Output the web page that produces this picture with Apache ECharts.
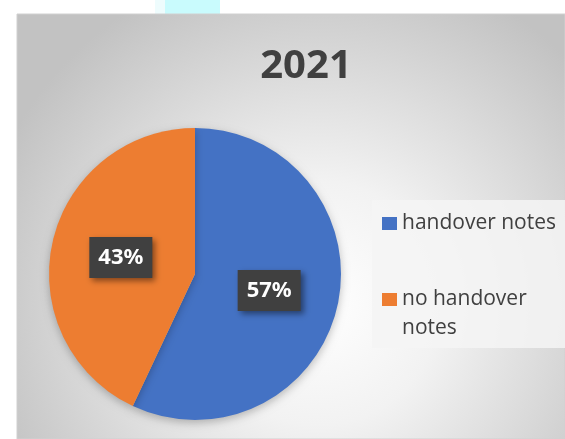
<!DOCTYPE html>
<html>
<head>
<meta charset="utf-8">
<style>
  html, body { margin: 0; padding: 0; background: #ffffff; }
  #chart { width: 565px; height: 439px; }
</style>
<script src="https://cdn.jsdelivr.net/npm/echarts@6/dist/echarts.min.js"></script>
</head>
<body>
<div id="chart"></div>
<script>
const titleText = '2021';
const categories = ['handover notes', 'no handover notes'];
const values = [57, 43];
const colors = ['#4472C4', '#ED7D31'];

const chart = echarts.init(document.getElementById('chart'), null, { renderer: 'canvas' });

const legendLabels = {
  'handover notes': 'handover notes',
  'no handover notes': '\u00a0\nno handover\nnotes'
};

const option = {
  backgroundColor: '#ffffff',
  animation: false,
  graphic: [
    {
      type: 'rect', z: -10, silent: true,
      shape: { x: 155, y: 0, width: 65, height: 14 },
      style: { fill: '#eefcfd' }
    },
    {
      type: 'rect', z: -10, silent: true,
      shape: { x: 165, y: 0, width: 55, height: 14 },
      style: { fill: '#c9fbfd' }
    },
    {
      type: 'rect', z: -10, silent: true,
      shape: { x: 17, y: 14, width: 548, height: 425 },
      style: {
        fill: {
          type: 'radial', x: 0.55, y: 0.68, r: 0.82,
          colorStops: [
            { offset: 0, color: '#ffffff' },
            { offset: 0.35, color: '#f2f2f2' },
            { offset: 1, color: '#c2c2c2' }
          ]
        },
        stroke: '#d0d0d0', lineWidth: 1
      }
    },
    {
      type: 'rect', z: -5, silent: true,
      shape: { x: 372, y: 200, width: 193, height: 148 },
      style: { fill: 'rgba(245,245,245,0.85)' }
    }
  ],
  title: {
    text: titleText,
    left: 301,
    top: 42,
    textAlign: 'center',
    textStyle: {
      fontFamily: 'Noto Sans',
      fontSize: 40,
      fontWeight: 'bold',
      color: '#404040'
    }
  },
  legend: {
    orient: 'vertical',
    left: 372,
    top: 200,
    padding: [9, 8, 4, 10],
    itemWidth: 15,
    itemHeight: 13,
    itemGap: 18,
    icon: 'rect',
    data: categories,
    formatter: function (name) { return legendLabels[name]; },
    textStyle: {
      fontFamily: 'Open Sans',
      fontSize: 21,
      lineHeight: 29,
      color: '#404040'
    }
  },
  series: [
    {
      type: 'pie',
      center: [195, 274],
      radius: [0, 146],
      startAngle: 90,
      clockwise: true,
      color: colors,
      itemStyle: {
        shadowBlur: 8,
        shadowColor: 'rgba(0,0,0,0.25)',
        shadowOffsetY: 3
      },
      label: {
        show: true,
        position: 'inside',
        formatter: '{c}%',
        fontFamily: 'Noto Sans',
        fontSize: 22,
        fontWeight: 'bold',
        color: '#ffffff',
        backgroundColor: '#404040',
        padding: [9, 9],
        lineHeight: 23,
        shadowBlur: 6,
        shadowColor: 'rgba(0,0,0,0.45)',
        shadowOffsetX: 3,
        shadowOffsetY: 3
      },
      labelLine: { show: false },
      emphasis: { disabled: true },
      data: categories.map(function (c, i) { return { name: c, value: values[i] }; })
    }
  ]
};

chart.setOption(option);
</script>
</body>
</html>
